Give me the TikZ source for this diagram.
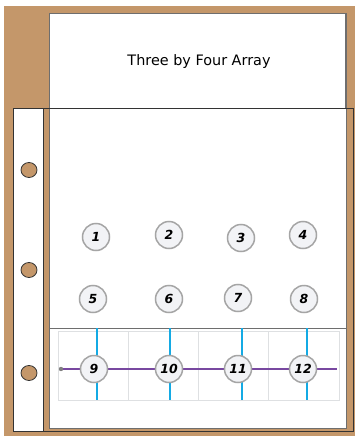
\documentclass[tikz,border=0pt]{standalone}
\usepackage{fontspec}
\setmainfont{DejaVu Sans}
\newfontfamily\numfont{DejaVu Sans}
\definecolor{board}{RGB}{196,151,106}
\definecolor{cardedge}{RGB}{110,110,110}
\definecolor{gridgray}{RGB}{222,224,226}
\definecolor{bluel}{RGB}{20,170,228}
\definecolor{purpl}{RGB}{120,72,160}
\definecolor{circfill}{RGB}{242,243,246}
\definecolor{circedge}{RGB}{165,165,165}
\pgfdeclarelayer{bg}
\pgfdeclarelayer{lines}
\pgfsetlayers{bg,lines,main}
\tikzset{
  numcirc/.style={circle,draw=circedge,line width=1.5pt,fill=circfill,minimum size=27pt,inner sep=0pt,font=\numfont\itshape\bfseries\fontsize{12.5}{12.5}\selectfont},
  hole/.style={ellipse,draw=black!80,line width=0.8pt,fill=board,minimum width=16pt,minimum height=15pt,inner sep=0pt},
  bluelinestyle/.style={bluel,line width=1.6pt},
  purplinestyle/.style={purpl,line width=1.6pt},
  pocketline/.style={draw=black!80,line width=0.8pt},
  cardstyle/.style={fill=white,draw=cardedge,line width=0.8pt}
}
\usetikzlibrary{shapes.geometric}
\begin{document}
\begin{tikzpicture}[x=1pt,y=-1pt]
\useasboundingbox (0,0) rectangle (355,436);
\begin{pgfonlayer}{bg}
\fill[white] (0,0) rectangle (355,436);
\fill[board] (4,6) rectangle (355,436);
% big card
\draw[cardstyle] (49,13) rectangle (346,428);
\draw[cardedge,line width=1.6pt] (49.5,14) -- (49.5,428);
\draw[cardedge,line width=1.6pt] (345.5,14) -- (345.5,108);
% inner card in pocket
\draw[cardstyle] (49,108) rectangle (346,328);
% grid
\draw[gridgray,line width=0.8pt] (58,331) rectangle (339,400);
\foreach \gx in {128,198,268} \draw[gridgray,line width=0.8pt] (\gx,331) -- (\gx,400);
% pocket
\draw[pocketline] (13,108) rectangle (353,431);
\draw[pocketline,fill=white] (13,108) rectangle (43,431);
\end{pgfonlayer}
\node (title) at (199,62) {\fontsize{14.4}{16}\selectfont Three by Four Array};
\node[hole] (h1) at (29,170) {};
\node[hole] (h2) at (29,270) {};
\node[hole] (h3) at (29,373) {};
\node[numcirc] (c1) at (96,237) {1};
\node[numcirc] (c2) at (169,235) {2};
\node[numcirc] (c3) at (241,238) {3};
\node[numcirc] (c4) at (303,235) {4};
\node[numcirc] (c5) at (93,299) {5};
\node[numcirc] (c6) at (169,299) {6};
\node[numcirc] (c7) at (238,298) {7};
\node[numcirc] (c8) at (304,299) {8};
\node[numcirc] (c9) at (94,369) {9};
\node[numcirc] (c10) at (169,369) {10};
\node[numcirc] (c11) at (238,369) {11};
\node[numcirc] (c12) at (303,369) {12};
\coordinate (pstart) at (61,369);
\coordinate (pend) at (337,369);
\coordinate (b1t) at (97,328); \coordinate (b1b) at (97,400);
\coordinate (b2t) at (170,328); \coordinate (b2b) at (170,400);
\coordinate (b3t) at (242,328); \coordinate (b3b) at (242,400);
\coordinate (b4t) at (307,328); \coordinate (b4b) at (307,400);
\begin{pgfonlayer}{lines}
\draw[bluelinestyle] (b1t) -- (b1b);
\draw[bluelinestyle] (b2t) -- (b2b);
\draw[bluelinestyle] (b3t) -- (b3b);
\draw[bluelinestyle] (b4t) -- (b4b);
\draw[purplinestyle] (pstart) -- (c9) -- (c10) -- (c11) -- (c12) -- (pend);
\fill[gray] (pstart) circle (2.2pt);
\end{pgfonlayer}
\end{tikzpicture}
\end{document}
